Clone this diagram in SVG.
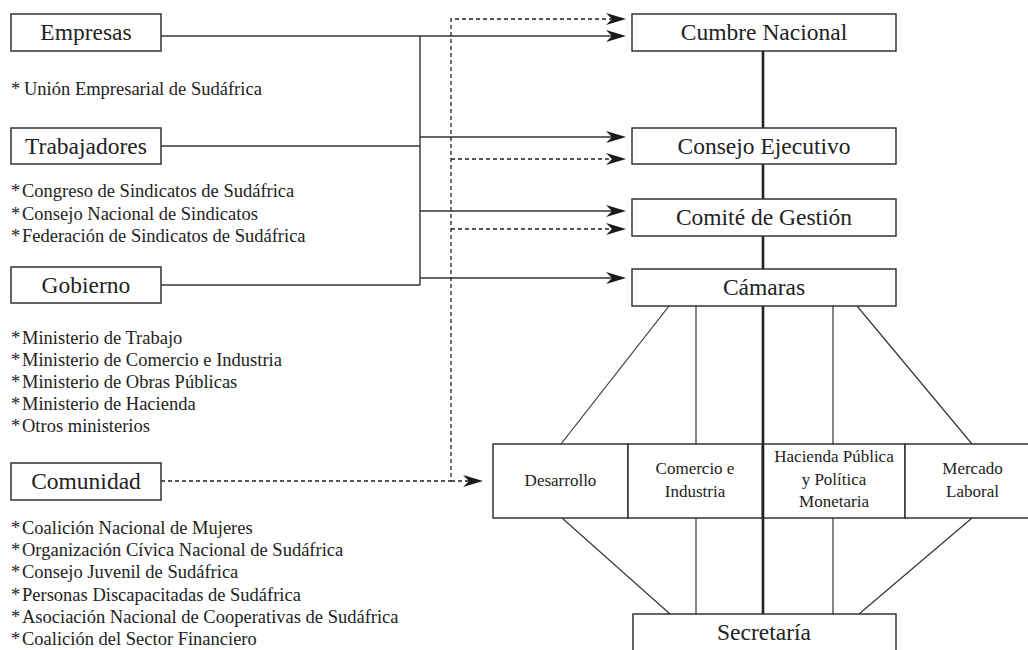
<svg xmlns="http://www.w3.org/2000/svg" width="1028" height="650" viewBox="0 0 1028 650">
<style>
  text { font-family: "Liberation Serif", "Times New Roman", serif; fill: #222222; }
  .box { fill: #ffffff; stroke: #333333; stroke-width: 1.5; }
  .lbl { font-size: 23.5px; text-anchor: middle; }
  .sm { font-size: 17px; text-anchor: middle; }
  .lst { font-size: 18.5px; }
  .ln { fill: none; stroke: #333333; stroke-width: 1.4; }
  .dash { fill: none; stroke: #222222; stroke-width: 1.3; stroke-dasharray: 4 3; }
  .thin { fill: none; stroke: #333333; stroke-width: 1.2; }
  .thick { fill: none; stroke: #222222; stroke-width: 2.6; }
</style>
<defs>
  <marker id="ah" markerUnits="userSpaceOnUse" viewBox="-7 -7 22 14" refX="0" refY="0" markerWidth="22" markerHeight="14" orient="auto">
    <path d="M14,0 L-6,-6 L0,0 L-6,6 Z" fill="#1a1a1a"/>
  </marker>
</defs>
<rect width="1028" height="650" fill="#ffffff"/>

<g id="connectors">
  <path class="ln" d="M161,36 H612" marker-end="url(#ah)"/>
  <path class="ln" d="M161,146 H420"/>
  <path class="ln" d="M161,285 H420"/>
  <path class="ln" d="M420,36 V285"/>
  <path class="ln" d="M420,137 H612" marker-end="url(#ah)"/>
  <path class="ln" d="M420,211 H612" marker-end="url(#ah)"/>
  <path class="ln" d="M420,278 H612" marker-end="url(#ah)"/>
  <path class="dash" d="M161,481 H451 V19 H612" marker-end="url(#ah)"/>
  <path class="dash" d="M451,159 H612" marker-end="url(#ah)"/>
  <path class="dash" d="M451,229 H612" marker-end="url(#ah)"/>
  <path class="dash" d="M451,481 H469" marker-end="url(#ah)"/>
  <path class="thick" d="M763,51 V128"/>
  <path class="thick" d="M763,164 V199"/>
  <path class="thick" d="M763,236 V269"/>
  <path class="thick" d="M763,306 V614"/>
  <path class="thin" d="M669,306 L561,444"/>
  <path class="thin" d="M857,306 L972,444"/>
  <path class="thin" d="M696,306 V444"/>
  <path class="thin" d="M833,306 V444"/>
  <path class="thin" d="M562,518 L670,614"/>
  <path class="thin" d="M972,518 L859,614"/>
  <path class="thin" d="M696,518 V614"/>
  <path class="thin" d="M833,518 V614"/>
</g>

<g id="empresas">
  <rect class="box" x="11" y="14" width="150" height="37"/>
  <text class="lbl" x="86" y="39.5">Empresas</text>
</g>
<g id="lista-empresas">
  <text class="lst" x="11" y="95">*<tspan x="24">Unión Empresarial de Sudáfrica</tspan></text>
</g>

<g id="trabajadores">
  <rect class="box" x="11" y="128" width="150" height="36"/>
  <text class="lbl" x="86" y="153.5">Trabajadores</text>
</g>
<g id="lista-trabajadores">
  <text class="lst" x="11" y="197">*<tspan x="22">Congreso de Sindicatos de Sudáfrica</tspan></text>
  <text class="lst" x="11" y="219.5">*<tspan x="22">Consejo Nacional de Sindicatos</tspan></text>
  <text class="lst" x="11" y="242">*<tspan x="22">Federación de Sindicatos de Sudáfrica</tspan></text>
</g>

<g id="gobierno">
  <rect class="box" x="11" y="267" width="150" height="36"/>
  <text class="lbl" x="86" y="292.5">Gobierno</text>
</g>
<g id="lista-gobierno">
  <text class="lst" x="11" y="344">*<tspan x="22">Ministerio de Trabajo</tspan></text>
  <text class="lst" x="11" y="366">*<tspan x="22">Ministerio de Comercio e Industria</tspan></text>
  <text class="lst" x="11" y="388">*<tspan x="22">Ministerio de Obras Públicas</tspan></text>
  <text class="lst" x="11" y="410">*<tspan x="22">Ministerio de Hacienda</tspan></text>
  <text class="lst" x="11" y="432">*<tspan x="22">Otros ministerios</tspan></text>
</g>

<g id="comunidad">
  <rect class="box" x="11" y="463" width="150" height="37"/>
  <text class="lbl" x="86" y="488.5">Comunidad</text>
</g>
<g id="lista-comunidad">
  <text class="lst" x="11" y="533.5">*<tspan x="22">Coalición Nacional de Mujeres</tspan></text>
  <text class="lst" x="11" y="556">*<tspan x="22">Organización Cívica Nacional de Sudáfrica</tspan></text>
  <text class="lst" x="11" y="578">*<tspan x="22">Consejo Juvenil de Sudáfrica</tspan></text>
  <text class="lst" x="11" y="600.5">*<tspan x="22">Personas Discapacitadas de Sudáfrica</tspan></text>
  <text class="lst" x="11" y="622.5">*<tspan x="22">Asociación Nacional de Cooperativas de Sudáfrica</tspan></text>
  <text class="lst" x="11" y="645">*<tspan x="22">Coalición del Sector Financiero</tspan></text>
</g>

<g id="cumbre-nacional">
  <rect class="box" x="632" y="14" width="264" height="37"/>
  <text class="lbl" x="764" y="39.5">Cumbre Nacional</text>
</g>
<g id="consejo-ejecutivo">
  <rect class="box" x="632" y="128" width="264" height="36"/>
  <text class="lbl" x="764" y="153.5">Consejo Ejecutivo</text>
</g>
<g id="comite-gestion">
  <rect class="box" x="632" y="199" width="264" height="37"/>
  <text class="lbl" x="764" y="224.5">Comité de Gestión</text>
</g>
<g id="camaras">
  <rect class="box" x="632" y="269" width="264" height="37"/>
  <text class="lbl" x="764" y="294.5">Cámaras</text>
</g>

<g id="desarrollo">
  <rect class="box" x="493" y="444" width="135" height="74"/>
  <text class="sm" x="560.5" y="486">Desarrollo</text>
</g>
<g id="comercio-industria">
  <rect class="box" x="628" y="444" width="134.5" height="74"/>
  <text class="sm" x="695" y="474">Comercio e</text>
  <text class="sm" x="695" y="497">Industria</text>
</g>
<g id="hacienda">
  <rect class="box" x="762.5" y="444" width="142.5" height="74"/>
  <text class="sm" x="834" y="462">Hacienda Pública</text>
  <text class="sm" x="834" y="484.5">y Política</text>
  <text class="sm" x="834" y="507">Monetaria</text>
</g>
<g id="mercado-laboral">
  <rect class="box" x="905" y="444" width="135" height="74"/>
  <text class="sm" x="972.5" y="474">Mercado</text>
  <text class="sm" x="972.5" y="497">Laboral</text>
</g>
<path class="thick" d="M763,444 V518"/>

<g id="secretaria">
  <rect class="box" x="633" y="614" width="263" height="45"/>
  <text class="lbl" x="764" y="639.5">Secretaría</text>
</g>
</svg>
